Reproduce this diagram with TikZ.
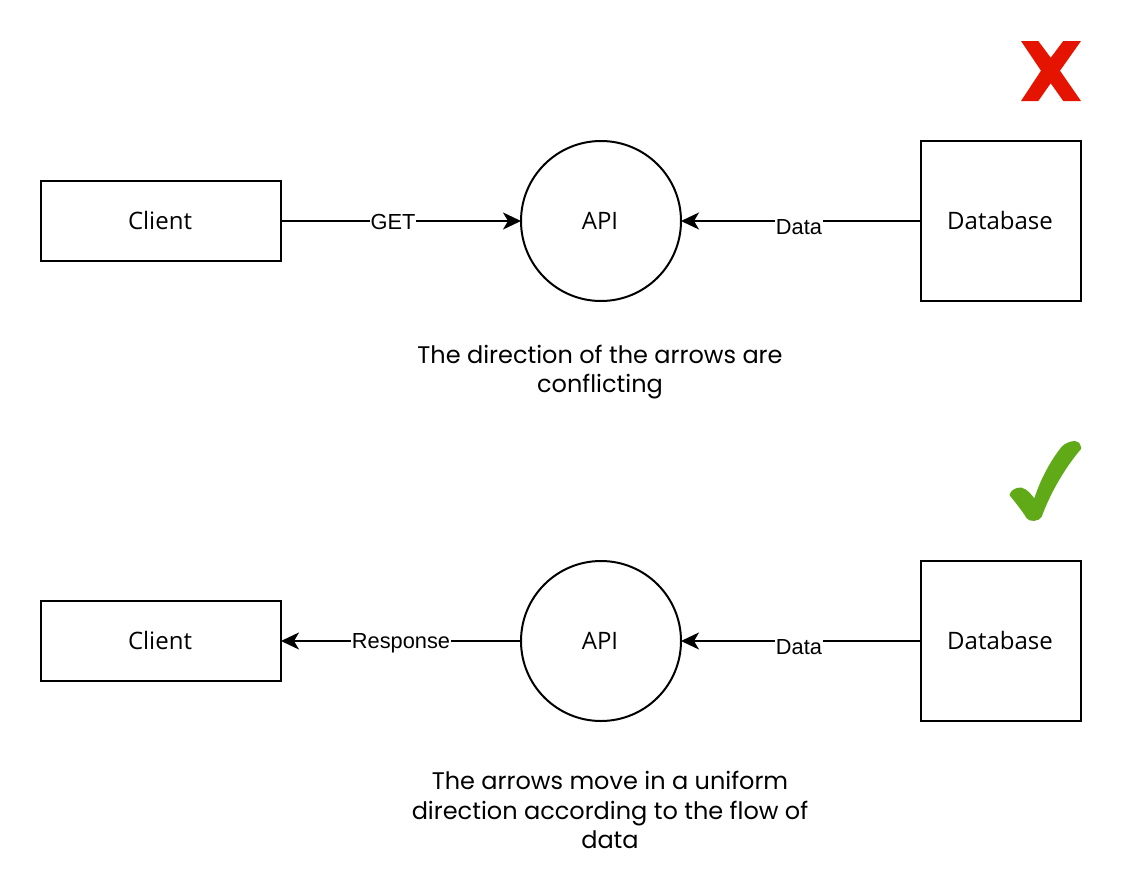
\documentclass[tikz,border=0pt]{standalone}
\usepackage{fontspec}
\setmainfont{Open Sans}
\newfontfamily\labelfont{Liberation Sans}
\newfontfamily\handfont{Poppins}
\usetikzlibrary{arrows.meta}
\definecolor{crossred}{HTML}{E51400}
\definecolor{tickgreen}{HTML}{60A917}
\newcommand{\boxtext}[1]{\raisebox{1pt}{\kern-2pt #1}}
\tikzset{
  x=1pt,y=-1pt,
  shapebox/.style={draw=black,line width=2pt,fill=white,inner sep=0pt,font=\fontsize{24}{28}\selectfont,text=black},
  rectbox/.style={shapebox,rectangle,minimum width=240pt,minimum height=80pt},
  squarebox/.style={shapebox,rectangle,minimum width=160pt,minimum height=160pt},
  roundbox/.style={shapebox,circle,minimum size=160pt},
  flow/.style={draw=black,line width=2pt,shorten >=-1pt,-{Stealth[length=18pt,width=17pt,inset=5pt]}},
  flowlabel/.style={fill=white,inner xsep=0.5pt,inner ysep=1.5pt,text height=15pt,text depth=0pt,font=\labelfont\fontsize{21.8}{24}\selectfont},
  note/.style={align=center,font=\handfont\fontsize{24}{29.5}\selectfont},
}
\begin{document}
\begin{tikzpicture}
\useasboundingbox (0,0) rectangle (1122,894);
\fill[white] (0,0) rectangle (1122,894);
% top
\node[rectbox] (c1) at (161,221) {\boxtext{Client}};
\node[roundbox] (a1) at (601,221) {\boxtext{API}};
\node[squarebox] (d1) at (1001,221) {\boxtext{Database}};
\draw[flow] (c1) -- (a1);
\draw[flow] (d1) -- (a1);
\node[flowlabel] (gl) at (393,222) {GET};
\node[flowlabel] (dl1) at (799,226.5) {Data};
\node[note] (n1) at (600,372) {The direction of the arrows are\\conflicting};
% bottom
\node[rectbox] (c2) at (161,641) {\boxtext{Client}};
\node[roundbox] (a2) at (601,641) {\boxtext{API}};
\node[squarebox] (d2) at (1001,641) {\boxtext{Database}};
\draw[flow] (a2) -- (c2);
\draw[flow] (d2) -- (a2);
\node[flowlabel] (rl) at (401,641) {Response};
\node[flowlabel] (dl2) at (799,646.5) {Data};
\node[note] (n2) at (610,810) {The arrows move in a uniform\\direction according to the flow of\\data};
% marks
\fill[crossred] (1021,41) -- (1038.3,41) -- (1050.7,57.7) -- (1063.3,41) -- (1081,41) -- (1060,70.7) -- (1081,101) -- (1063.3,101) -- (1050.7,83.3) -- (1038.3,101) -- (1021,101) -- (1041,70.7) -- cycle;
\fill[tickgreen] (1081,447) .. controls (1080,443) and (1078,441) .. (1075,441)
  .. controls (1071,441) and (1065,443) .. (1061.7,446.7)
  .. controls (1051,460) and (1041,478) .. (1034.3,498.3)
  .. controls (1031,494) and (1027,489) .. (1021.7,487.7)
  .. controls (1016,486.5) and (1010,491) .. (1009.5,495)
  .. controls (1014,501) and (1021,509) .. (1026.7,518.3)
  .. controls (1029,522) and (1039,522) .. (1041.7,516.7)
  .. controls (1050,494) and (1064,469) .. (1081,449) -- cycle;
\end{tikzpicture}
\end{document}
